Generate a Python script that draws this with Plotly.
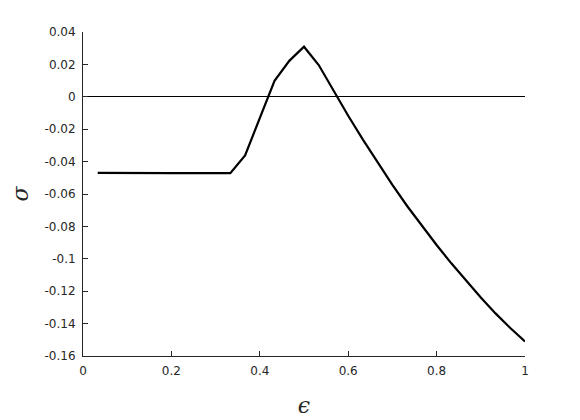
import plotly.graph_objects as go

# Data
eps = [0.0333, 0.0667, 0.1, 0.1333, 0.1667, 0.2, 0.2333, 0.2667, 0.3, 0.3333,
       0.3667, 0.4, 0.4333, 0.4667, 0.5, 0.5333, 0.5667, 0.6, 0.6333, 0.6667,
       0.7, 0.7333, 0.7667, 0.8, 0.8333, 0.8667, 0.9, 0.9333, 0.9667, 1.0]
sigma = [-0.0470, -0.0471, -0.0471, -0.0471, -0.0471, -0.0471, -0.0471, -0.0471, -0.0471, -0.0471,
         -0.0362, -0.0128, 0.0099, 0.0222, 0.0309, 0.0196, 0.0036, -0.0117, -0.0264, -0.0407,
         -0.0544, -0.0674, -0.0797, -0.0915, -0.1028, -0.1136, -0.1239, -0.1337, -0.1427, -0.1510]

x_ticks = [0, 0.2, 0.4, 0.6, 0.8, 1]
x_tick_labels = ["0", "0.2", "0.4", "0.6", "0.8", "1"]
y_ticks = [-0.16, -0.14, -0.12, -0.1, -0.08, -0.06, -0.04, -0.02, 0, 0.02, 0.04]
y_tick_labels = ["-0.16", "-0.14", "-0.12", "-0.1", "-0.08", "-0.06", "-0.04", "-0.02", "0", "0.02", "0.04"]

axis_color = "#262626"

fig = go.Figure()
fig.add_trace(go.Scatter(x=eps, y=sigma, mode="lines",
                         line=dict(color="black", width=2.2), showlegend=False,
                         hoverinfo="skip"))

fig.update_layout(
    width=580, height=420,
    margin=dict(l=75, r=63, t=24, b=72),
    paper_bgcolor="white", plot_bgcolor="white",
    font=dict(family="DejaVu Sans", size=12, color=axis_color),
    showlegend=False,
)
fig.update_xaxes(
    range=[0, 1], tickvals=x_ticks, ticktext=x_tick_labels,
    showline=True, linecolor=axis_color, linewidth=1, mirror=False,
    ticks="inside", ticklen=5, tickcolor=axis_color, tickwidth=1,
    ticklabelstandoff=4, automargin=False,
    showgrid=False, zeroline=False,
    title=dict(text="<i>ϵ</i>", font=dict(family="DejaVu Serif", size=22, color=axis_color), standoff=20),
)
fig.update_yaxes(
    range=[-0.16, 0.04], tickvals=y_ticks, ticktext=y_tick_labels,
    showline=True, linecolor=axis_color, linewidth=1, mirror=False,
    ticks="inside", ticklen=5, tickcolor=axis_color, tickwidth=1,
    ticklabelstandoff=4, automargin=False,
    showgrid=False, zeroline=True, zerolinecolor="black", zerolinewidth=1,
    title=dict(text="<i>σ</i>", font=dict(family="DejaVu Serif", size=22, color=axis_color), standoff=14),
)

fig.write_html("out.html")
